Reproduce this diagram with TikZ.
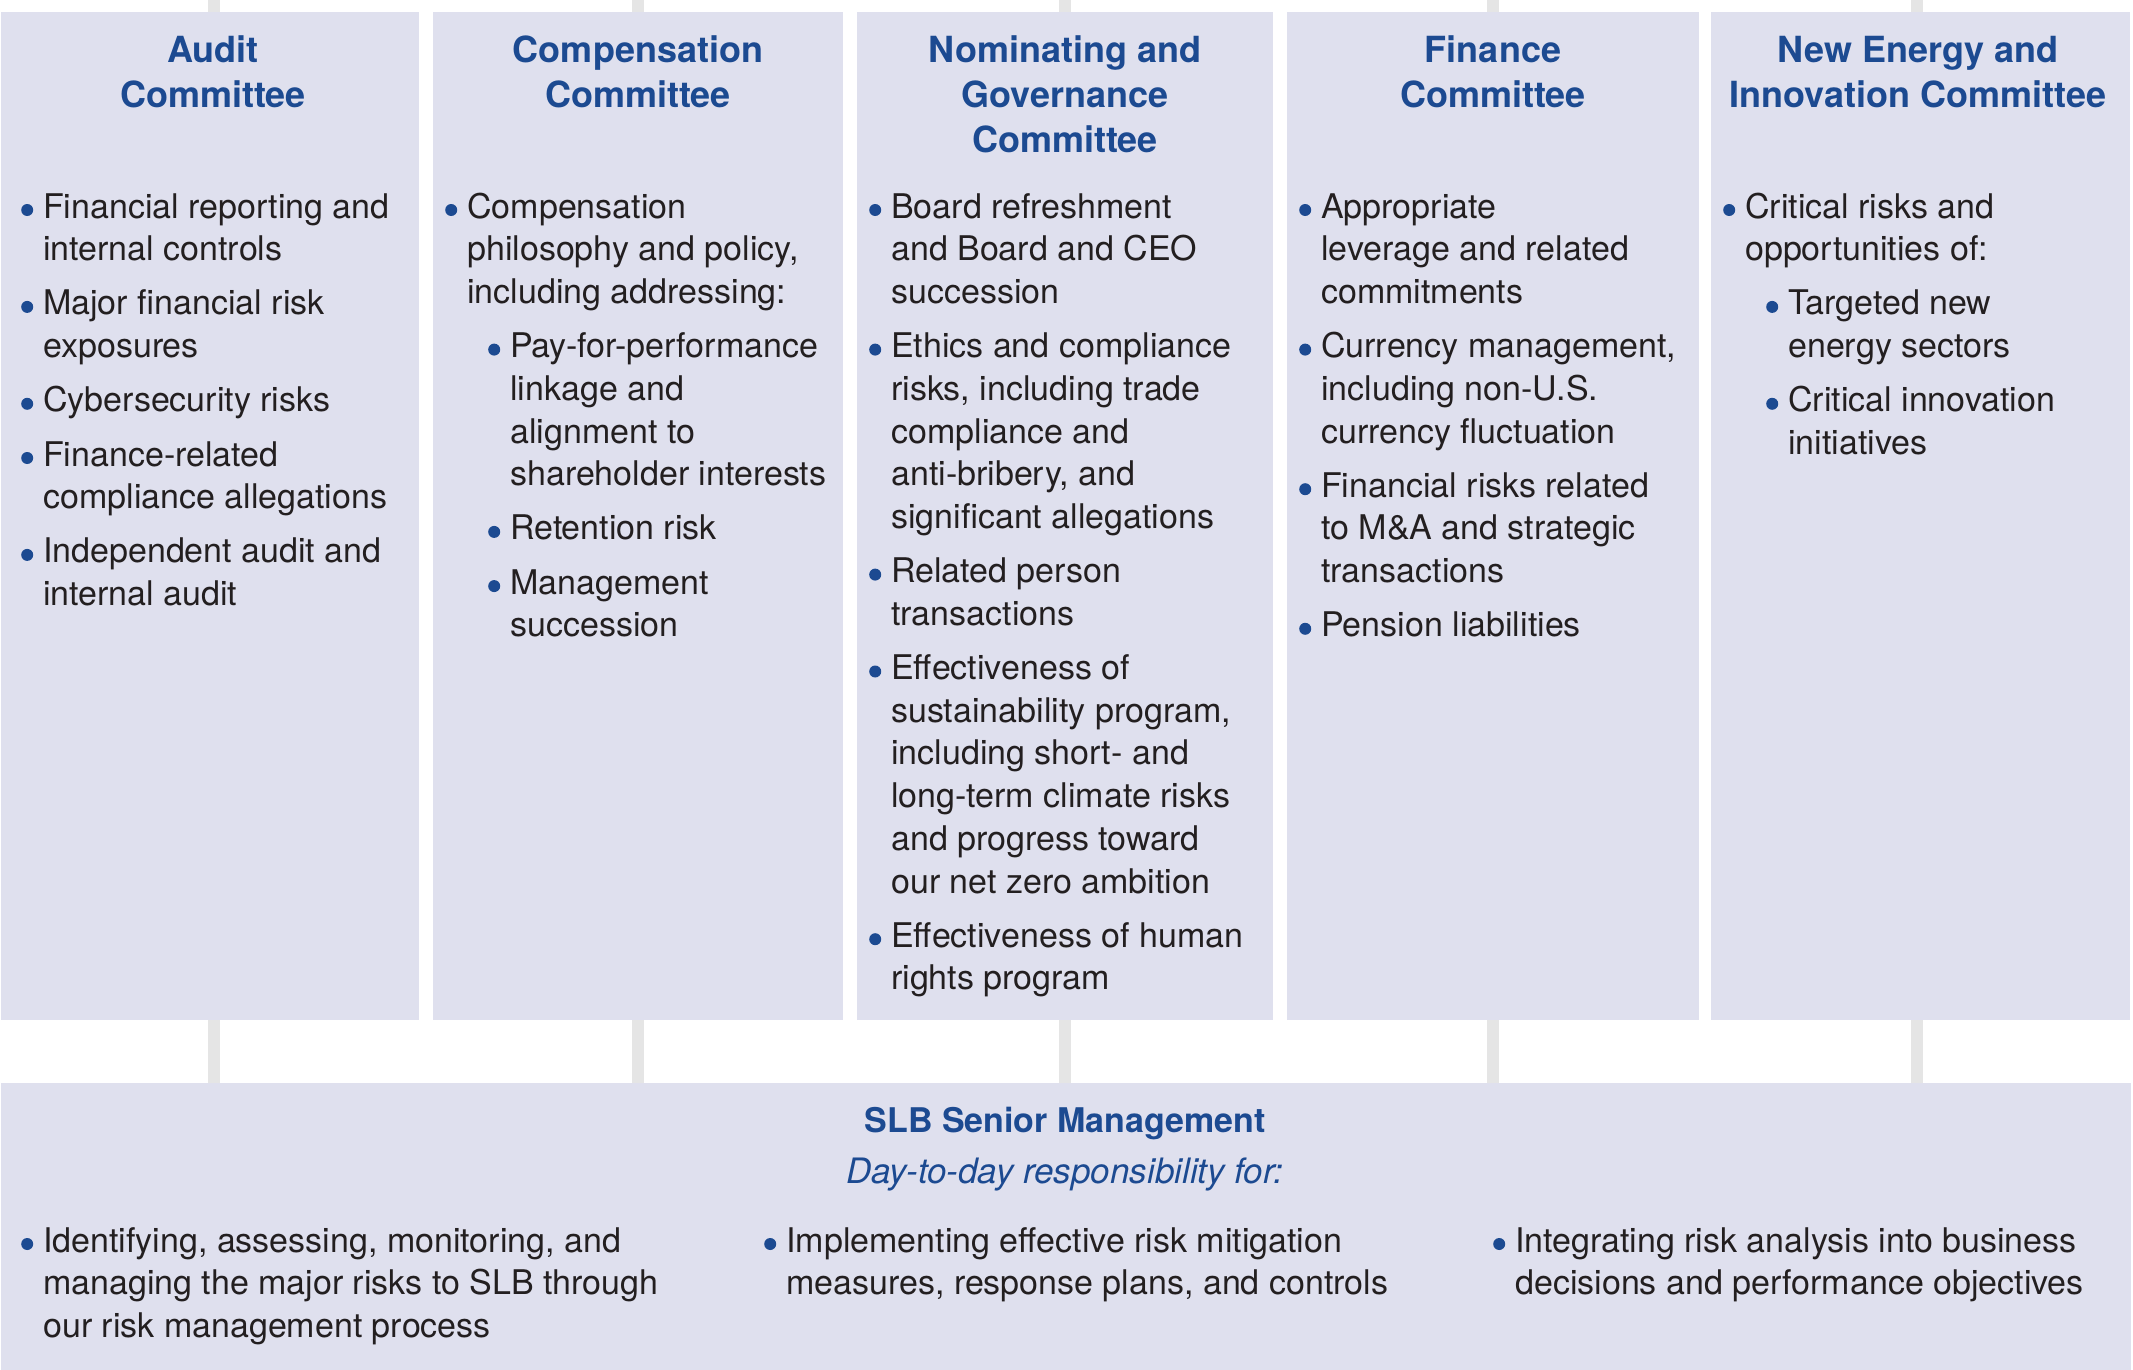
\documentclass[tikz,border=0pt]{standalone}
\usepackage{fontspec}
\setmainfont{TeX Gyre Heros}
\usetikzlibrary{calc}

\definecolor{panel}{HTML}{DFE0EE}
\definecolor{slbblue}{HTML}{1C4A91}
\definecolor{bodytext}{HTML}{231F20}
\definecolor{linkgrey}{HTML}{E5E5E5}

% blue list bullet, centred on the x-height middle
\newcommand\bul{\tikz[baseline=0pt]\fill[slbblue] (0pt,8pt) circle[radius=6pt];}
% first-level and second-level list entries
\newcommand\pitem[1]{\par\leftskip=0pt\noindent\llap{\bul\hspace{10pt}}#1\par}
\newcommand\qitem[1]{\par\leftskip=43pt\noindent\llap{\bul\hspace{10pt}}#1\par}
% a column of entries, top line on the node's base
\newcommand\entries[2]{\parbox[t]{#1}{\raggedright\parskip=11.5pt #2}}
\newcommand\heading[1]{\parbox[t]{400pt}{\centering #1}}

\begin{document}
\begin{tikzpicture}[x=1pt, y=-1pt,
  panelbox/.style={fill=panel, draw=none, inner sep=0pt, minimum height=1008pt, anchor=north west},
  link/.style={draw=linkgrey, line width=12pt},
  heads/.style={inner sep=0pt, anchor=base, text=slbblue, font=\fontsize{36}{45}\selectfont\bfseries},
  body/.style={inner sep=0pt, anchor=base west, text=bodytext, font=\fontsize{34}{42.7}\selectfont},
  lead/.style={inner sep=0pt, anchor=base, text=slbblue, font=\fontsize{35}{43}\selectfont\itshape}]

\useasboundingbox (0,0) rectangle (2133,1370);

% committee panels
\node[panelbox, minimum width=418pt] (audit) at (1,12) {};
\node[panelbox, minimum width=410pt] (comp)  at (433,12) {};
\node[panelbox, minimum width=416pt] (nom)   at (857,12) {};
\node[panelbox, minimum width=412pt] (fin)   at (1287,12) {};
\node[panelbox, minimum width=419pt] (nei)   at (1711,12) {};

% management panel
\node[fill=panel, draw=none, inner sep=0pt, anchor=north west,
      minimum width=2130pt, minimum height=287pt] (senior) at (1,1083) {};

% vertical links: from the top edge into each panel, and down to management
\coordinate (k1) at (214,0);
\coordinate (k2) at (638,0);
\coordinate (k3) at (1065,0);
\coordinate (k4) at (1493,0);
\coordinate (k5) at (1917,0);
\draw[link] (k1) -- (k1 |- audit.north);
\draw[link] (k2) -- (k2 |- comp.north);
\draw[link] (k3) -- (k3 |- nom.north);
\draw[link] (k4) -- (k4 |- fin.north);
\draw[link] (k5) -- (k5 |- nei.north);
\draw[link] (k1 |- audit.south) -- (k1 |- senior.north);
\draw[link] (k2 |- comp.south)  -- (k2 |- senior.north);
\draw[link] (k3 |- nom.south)   -- (k3 |- senior.north);
\draw[link] (k4 |- fin.south)   -- (k4 |- senior.north);
\draw[link] (k5 |- nei.south)   -- (k5 |- senior.north);

% headings
\node[heads] (audit-h) at (213,63)  {\heading{Audit\\Committee}};
\node[heads] (comp-h)  at (638,63)  {\heading{Compensation\\Committee}};
\node[heads] (nom-h)   at (1065,63) {\heading{Nominating and\\Governance\\Committee}};
\node[heads] (fin-h)   at (1493,63) {\heading{Finance\\Committee}};
\node[heads] (nei-h)   at (1918,63) {\heading{New Energy and\\Innovation Committee}};

% committee responsibilities
\node[body] (audit-b) at (43,218) {\entries{370pt}{%
  \pitem{Financial reporting and\newline internal controls}
  \pitem{Major financial risk\newline exposures}
  \pitem{Cybersecurity risks}
  \pitem{Finance-related\newline compliance allegations}
  \pitem{Independent audit and\newline internal audit}}};

\node[body] (comp-b) at (467,218) {\entries{370pt}{%
  \pitem{Compensation\newline philosophy and policy,\newline including addressing:}
  \qitem{Pay-for-performance\newline linkage and\newline alignment to\newline shareholder interests}
  \qitem{Retention risk}
  \qitem{Management\newline succession}}};

\node[body] (nom-b) at (891,218) {\entries{375pt}{%
  \pitem{Board refreshment\newline and Board and CEO\newline succession}
  \pitem{Ethics and compliance\newline risks, including trade\newline compliance and\newline anti-bribery, and\newline significant allegations}
  \pitem{Related person\newline transactions}
  \pitem{Effectiveness of\newline sustainability program,\newline including short- and\newline long-term climate risks\newline and progress toward\newline our net zero ambition}
  \pitem{Effectiveness of human\newline rights program}}};

\node[body] (fin-b) at (1321,218) {\entries{370pt}{%
  \pitem{Appropriate\newline leverage and related\newline commitments}
  \pitem{Currency management,\newline including non-U.S.\newline currency fluctuation}
  \pitem{Financial risks related\newline to M\&A and strategic\newline transactions}
  \pitem{Pension liabilities}}};

\node[body] (nei-b) at (1745,218) {\entries{380pt}{%
  \pitem{Critical risks and\newline opportunities of:}
  \qitem{Targeted new\newline energy sectors}
  \qitem{Critical innovation\newline initiatives}}};

% management
\node[heads, font=\fontsize{34}{42}\selectfont\bfseries] (senior-h) at (1065,1132) {SLB Senior Management};
\node[lead] (senior-l) at (1065,1183) {Day-to-day responsibility for:};

\node[body] (senior-a) at (43,1252) {\entries{700pt}{%
  \pitem{Identifying, assessing, monitoring, and\newline managing the major risks to SLB through\newline our risk management process}}};
\node[body] (senior-b) at (786,1252) {\entries{700pt}{%
  \pitem{Implementing effective risk mitigation\newline measures, response plans, and controls}}};
\node[body] (senior-c) at (1515,1252) {\entries{600pt}{%
  \pitem{Integrating risk analysis into business\newline decisions and performance objectives}}};

\end{tikzpicture}
\end{document}
